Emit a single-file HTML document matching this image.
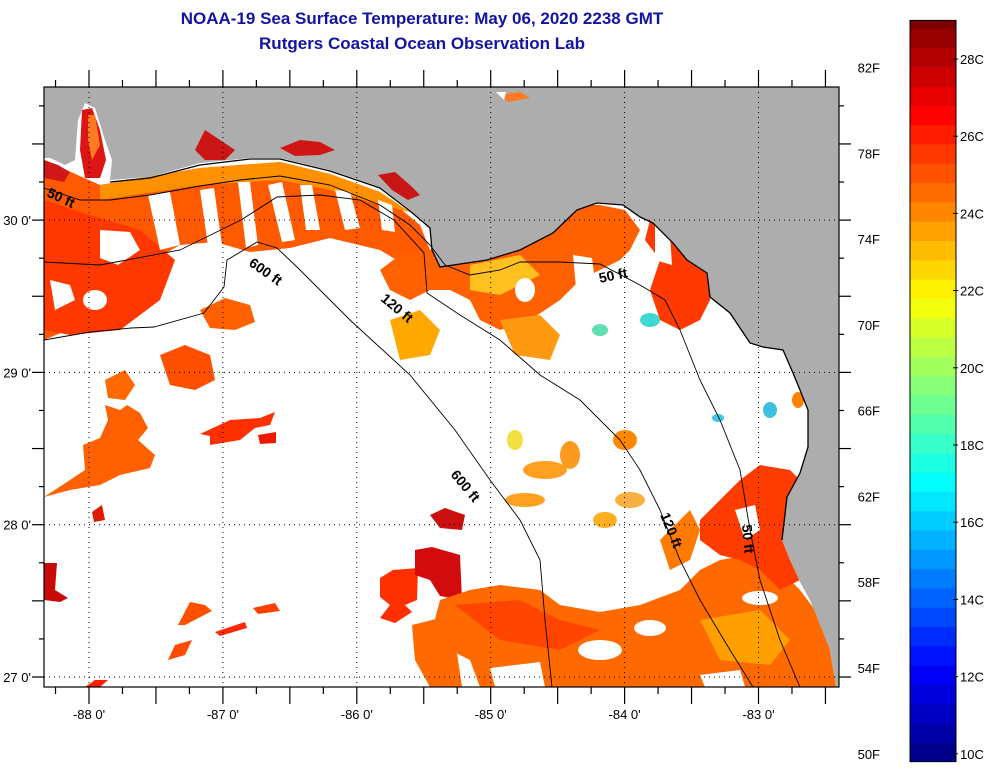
<!DOCTYPE html>
<html><head><meta charset="utf-8"><style>
body{margin:0;background:#fff;width:992px;height:770px;overflow:hidden;font-family:"Liberation Sans",Arial,sans-serif}
svg{position:absolute;left:0;top:0}
.t{font-family:"Liberation Sans",Arial,sans-serif;font-size:13px;fill:#000}
.lab{font-family:"Liberation Sans",Arial,sans-serif;font-size:14px;font-weight:bold;fill:#000}
</style></head><body>
<svg id="chart" width="992" height="770" viewBox="0 0 992 770">
<text x="422" y="24" text-anchor="middle" font-size="17" font-weight="bold" fill="#1414a0">NOAA-19 Sea Surface Temperature:  May 06, 2020 2238 GMT</text>
<text x="422" y="49" text-anchor="middle" font-size="17" font-weight="bold" fill="#1414a0">Rutgers Coastal Ocean Observation Lab</text>
<defs><clipPath id="mapclip"><rect x="44" y="87" width="795" height="600"/></clipPath></defs>
<g clip-path="url(#mapclip)">
<rect x="44" y="87" width="795" height="600" fill="#fff"/>
<g>
<polygon fill="#ff5a00" points="44,160 100,185 200,168 280,162 330,174 380,192 420,225 432,255 400,262 380,250 330,238 290,248 250,252 215,242 180,245 150,262 130,290 110,312 80,325 44,340"/>
<polygon fill="#ff9000" points="100,185 200,168 280,162 330,174 380,192 410,212 380,205 330,190 280,180 200,185 100,200"/>
<polygon fill="#ff3800" points="44,200 90,215 140,230 175,260 160,300 120,330 70,335 44,330"/>
<polygon fill="#fff" points="148,195 170,192 180,245 160,250"/>
<polygon fill="#fff" points="200,190 214,188 222,245 208,246"/>
<polygon fill="#fff" points="238,182 250,182 258,245 246,248"/>
<polygon fill="#fff" points="268,185 282,182 295,240 282,242"/>
<polygon fill="#fff" points="300,185 312,185 320,230 306,230"/>
<polygon fill="#fff" points="335,190 350,192 360,228 345,230"/>
<polygon fill="#fff" points="378,200 392,205 395,232 382,230"/>
<polygon fill="#fff" points="100,230 130,232 140,250 118,265 100,258"/>
<polygon fill="#fff" points="50,280 70,285 75,300 55,310"/>
<ellipse cx="95" cy="300" rx="12" ry="10" fill="#fff"/>
<polygon fill="#ff6000" points="200,310 225,298 250,305 255,322 235,330 210,328"/>
<polygon fill="#ff5000" points="160,355 185,345 210,355 215,380 195,390 170,385"/>
<polygon fill="#ff6a00" points="105,380 125,370 135,385 125,400 108,398"/>
<polygon fill="#ff6000" points="44,497 70,480 85,470 83,445 100,438 108,420 105,405 120,410 127,405 140,413 148,428 138,440 155,455 150,468 120,475 100,485 70,490"/>
<polygon fill="#ff3000" points="200,434 230,420 260,418 275,412 270,425 255,428 240,440 210,445 210,436"/>
<polygon fill="#ee1a00" points="258,435 276,432 276,443 260,444"/>
<polygon fill="#e01a00" points="92,512 102,505 105,520 94,522"/>
<polygon fill="#c80a0a" points="44,563 57,563 55,590 68,598 60,602 44,600"/>
<polygon fill="#ff5000" points="178,625 190,602 205,605 212,611 185,625"/>
<polygon fill="#ff2800" points="215,632 245,622 247,628 220,636"/>
<polygon fill="#ff4000" points="253,608 275,603 280,611 258,614"/>
<polygon fill="#ff4a00" points="168,660 175,645 192,640 185,655"/>
<polygon fill="#ff2000" points="85,687 95,680 108,680 100,687"/>
<polygon fill="#ff3000" points="380,578 393,570 418,568 417,600 405,605 412,612 395,623 380,618 390,605 380,597"/>
<polygon fill="#d20c0c" points="415,550 432,547 460,555 462,600 440,596 430,580 415,575"/>
<polygon fill="#cc1010" points="430,515 445,508 465,515 462,530 440,528"/>
<polygon fill="#ff6a00" points="440,600 470,590 500,585 540,590 560,605 600,612 640,605 680,590 700,570 720,560 750,555 780,570 800,590 815,610 830,650 836,687 480,687 470,660 450,650 445,640 430,638"/>
<polygon fill="#ff6a00" points="412,625 440,618 455,640 462,687 430,687 415,660"/>
<polygon fill="#ff4500" points="455,605 520,600 560,620 600,630 560,650 500,640"/>
<polygon fill="#ffa000" points="700,620 760,610 790,640 770,665 720,660"/>
<ellipse cx="600" cy="650" rx="22" ry="10" fill="#fff"/>
<polygon fill="#fff" points="490,668 540,662 545,687 495,687"/>
<polygon fill="#fff" points="700,675 740,670 745,687 705,687"/>
<ellipse cx="760" cy="598" rx="18" ry="7" fill="#fff"/>
<ellipse cx="650" cy="628" rx="16" ry="8" fill="#fff"/>
<polygon fill="#ff3c00" points="700,520 720,500 740,480 760,465 790,470 800,480 790,500 782,540 790,560 800,580 780,590 760,570 740,560 720,555 700,540"/>
<polygon fill="#ff7a00" points="660,540 690,510 700,530 690,560 670,570"/>
<polygon fill="#ff2020" points="800,540 815,530 830,528 839,540 839,575 820,590 805,585"/>
<polygon fill="#fff" points="735,510 755,505 760,530 745,540"/>
<ellipse cx="545" cy="470" rx="22" ry="9" fill="#ffa020"/>
<ellipse cx="525" cy="500" rx="20" ry="7" fill="#ffa020"/>
<ellipse cx="570" cy="455" rx="10" ry="14" fill="#ff9a20"/>
<ellipse cx="605" cy="520" rx="12" ry="8" fill="#ffb020"/>
<ellipse cx="625" cy="440" rx="12" ry="10" fill="#ff8800"/>
<ellipse cx="515" cy="440" rx="8" ry="10" fill="#f0e040"/>
<ellipse cx="630" cy="500" rx="15" ry="8" fill="#f8b040"/>
<polygon fill="#ff6000" points="430,250 460,235 500,230 540,225 560,215 580,205 600,205 625,210 640,230 630,250 620,260 600,270 580,280 560,300 530,320 500,330 480,320 470,300 450,290 430,290 410,300 390,290 380,270 400,255"/>
<polygon fill="#ffc020" points="470,265 520,255 540,275 500,295 470,290"/>
<polygon fill="#fff" points="573,255 592,258 596,290 576,288"/>
<ellipse cx="525" cy="290" rx="10" ry="12" fill="#fff"/>
<polygon fill="#ff3a00" points="650,220 680,230 700,250 708,280 710,300 700,320 680,330 660,320 650,290 660,260 645,240"/>
<polygon fill="#fff" points="655,225 670,235 672,265 655,260"/>
<polygon fill="#ffa800" points="390,320 420,310 440,330 430,355 400,360"/>
<polygon fill="#ff9a10" points="500,320 540,315 560,335 550,360 515,355"/>
<ellipse cx="650" cy="320" rx="10" ry="7" fill="#40d8d0"/>
<ellipse cx="600" cy="330" rx="8" ry="6" fill="#60e0b0"/>
<ellipse cx="770" cy="410" rx="7" ry="8" fill="#40c0e0"/>
<ellipse cx="718" cy="418" rx="6" ry="4" fill="#40c8e0"/>
<ellipse cx="798" cy="400" rx="6" ry="8" fill="#ff8000"/>
</g>
<polygon fill="#adadad" points="44,87 839,87 839,687 836,687 830,650 810,600 800,582 790,560 782,540 787,497 800,473 808,447 808,410 800,390 793,373 783,350 763,347 750,343 730,313 710,297 707,273 687,260 673,243 653,223 640,217 623,205 597,203 577,210 553,233 520,250 487,260 440,267 432,250 430,227 410,210 380,187 330,170 280,158 250,158 200,163 150,177 110,180 112,160 105,140 95,108 85,103 78,120 75,160 65,165 50,158 44,158"/>
<polygon fill="#dd1515" points="82,110 92,108 100,130 106,160 100,178 85,178 80,150"/>
<polygon fill="#ff7a20" points="88,115 95,115 100,145 92,160 88,140"/>
<polygon fill="#d01818" points="44,160 58,165 70,172 64,182 44,178"/>
<polygon fill="#cc1515" points="195,150 205,130 220,140 235,150 225,160 205,160"/>
<polygon fill="#d01515" points="280,148 300,140 320,142 335,150 320,155 295,156"/>
<polygon fill="#c81515" points="378,175 395,172 410,185 420,195 408,200 392,190"/>
<polygon fill="#ff7a20" points="500,95 520,92 530,98 508,102"/>
<polygon fill="#fff" points="496,92 506,92 504,100"/>
<polyline fill="none" stroke="#000" stroke-width="1.3" points="110,182 150,178 200,165 250,159 280,159 330,171 380,188 410,211 430,228 432,250 440,267 487,260 520,250 553,233 577,210 597,203 623,205 640,217 653,223 673,243 687,260 707,273 710,297 730,313 750,343 763,347 783,350 793,373 800,390 808,410 808,447 800,473 787,497 782,540"/>
<g fill="none" stroke="#000" stroke-width="0.9">
<polyline points="44,188 80,200 110,200 150,195 200,186 240,180 280,176 330,185 380,205 410,225 430,245 445,265 470,275 500,270 520,262 560,262 600,264 640,285 665,300 680,330 700,380 720,420 740,470 750,530 760,580 780,640 800,687"/>
<polyline points="44,262 100,265 180,250 241,220 277,197 320,195 360,200 394,220 424,253 427,293 460,315 500,340 540,375 580,400 620,440 640,470 660,510 680,560 700,600 730,650 753,687"/>
<polyline points="44,340 90,332 131,328 154,327 204,313 224,287 227,260 257,242 277,248 297,267 350,320 410,375 455,430 490,480 520,520 540,560 545,620 552,687"/>
</g>
<text class="lab" transform="translate(46,196) rotate(25)">50 ft</text>
<text class="lab" transform="translate(248,265) rotate(35)">600 ft</text>
<text class="lab" transform="translate(380,300) rotate(40)">120 ft</text>
<text class="lab" transform="translate(450,475) rotate(50)">600 ft</text>
<text class="lab" transform="translate(600,283) rotate(-12)">50 ft</text>
<text class="lab" transform="translate(660,515) rotate(68)">120 ft</text>
<text class="lab" transform="translate(742,525) rotate(85)">50 ft</text>
<g id="grid"></g>
</g>
<rect x="44" y="87" width="795" height="600" fill="none" stroke="#000" stroke-width="1.2"/>
<g id="axes"></g>
<g id="cbar"></g>
</svg>
<script>
const lonTicks=[-88.25,-88,-87.75,-87.5,-87.25,-87,-86.75,-86.5,-86.25,-86,-85.75,-85.5,-85.25,-85,-84.75,-84.5,-84.25,-84,-83.75,-83.5,-83.25,-83,-82.75,-82.5];
const latTicks=[27,27.25,27.5,27.75,28,28.25,28.5,28.75,29,29.25,29.5,29.75,30,30.25,30.5,30.75];
const lonLabels=[-88,-87,-86,-85,-84,-83];
const latLabels=[27,28,29,30];
const cLabels=[10,12,14,16,18,20,22,24,26,28];
const fLabels=[50,54,58,62,66,70,74,78,82];
const NS='http://www.w3.org/2000/svg';
function xs(lon){return 89+(lon+88)*133.9;}
function ys(lat){return 677-(lat-27)*152.3;}
function ty(c){return 59+(28-c)*38.6;}
function mk(tag,at,par){const e=document.createElementNS(NS,tag);for(const k in at)e.setAttribute(k,at[k]);par.appendChild(e);return e;}
const axes=document.getElementById('axes'),grid=document.getElementById('grid'),cb=document.getElementById('cbar');
lonTicks.forEach(v=>{const x=xs(v);const major=Math.abs(v*2-Math.round(v*2))<1e-6;const L=major?17:7;
 let a=mk('line',{x1:x,x2:x,y1:687,y2:687+L,stroke:'#000','stroke-width':1.2},axes);
 
 let b=mk('line',{x1:x,x2:x,y1:87,y2:87-L,stroke:'#000','stroke-width':1.2},axes);
 });
latTicks.forEach(v=>{const y=ys(v);const major=Math.abs(v*2-Math.round(v*2))<1e-6;const L=major?12:5;
 let a=mk('line',{x1:44,x2:44-L,y1:y,y2:y,stroke:'#000','stroke-width':1.2},axes);
 
 let b=mk('line',{x1:839,x2:839+L,y1:y,y2:y,stroke:'#000','stroke-width':1.2},axes);
 });
lonLabels.forEach(v=>{const x=xs(v);
 let g=mk('line',{x1:x,x2:x,y1:87,y2:687,stroke:'#000','stroke-width':1,'stroke-dasharray':'1,4'},grid);
 
 let t=mk('text',{x:x,y:719,'text-anchor':'middle',class:'t'},axes);t.textContent=v+" 0'";
 });
latLabels.forEach(v=>{const y=ys(v);
 let g=mk('line',{x1:44,x2:839,y1:y,y2:y,stroke:'#000','stroke-width':1,'stroke-dasharray':'1,4'},grid);
 
 let t=mk('text',{x:31,y:y+5,'text-anchor':'end',class:'t'},axes);t.textContent=v+" 0'";
 });
function jet(t){const c=v=>Math.round(255*Math.max(0,Math.min(1,v)));return `rgb(${c(1.5-Math.abs(4*t-3))},${c(1.5-Math.abs(4*t-2))},${c(1.5-Math.abs(4*t-1))})`;}
const cMin=9.8,cMax=29.0,step=0.5;
for(let c=cMin;c<cMax-1e-6;c+=step){const top=ty(Math.min(c+step,cMax)),bot=ty(c);
 let r=mk('rect',{x:910,y:top,width:46,height:bot-top+0.6,fill:jet((c+step/2-cMin)/(cMax-cMin))},cb);
 }
let fr=mk('rect',{x:910,y:ty(cMax),width:46,height:ty(cMin)-ty(cMax),fill:'none',stroke:'#000','stroke-width':1},cb);

cLabels.forEach(c=>{const y=ty(c);
 mk('line',{x1:953,x2:958,y1:y,y2:y,stroke:'#000'},cb);
 let t=mk('text',{x:960,y:y+5,class:'t'},cb);t.textContent=c+'C';
 });
fLabels.forEach(f=>{const y=ty((f-32)*5/9);
 let t=mk('text',{x:880,y:y+5,'text-anchor':'end',class:'t'},cb);t.textContent=f+'F';
 });
</script>
</body></html>
